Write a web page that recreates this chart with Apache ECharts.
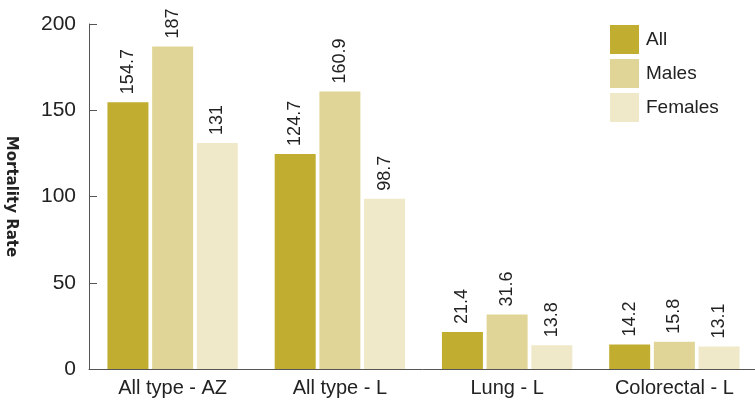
<!DOCTYPE html>
<html>
<head>
<meta charset="utf-8">
<script src="https://cdn.jsdelivr.net/npm/echarts@6/dist/echarts.min.js"></script>
<style>
  html, body { margin: 0; padding: 0; background: #fff; }
  #chart { width: 755px; height: 400px; }
</style>
</head>
<body>
<div id="chart"></div>
<script>
// data
const categories = ["All type - AZ", "All type - L", "Lung - L", "Colorectal - L"];
const allRates = [154.7, 124.7, 21.4, 14.2];
const maleRates = [187, 160.9, 31.6, 15.8];
const femaleRates = [131, 98.7, 13.8, 13.1];
const seriesNames = ["All", "Males", "Females"];
const colors = ["#c1ae30", "#e0d596", "#efe9c9"];

const font = "Liberation Sans";

const barLabel = {
  show: true,
  position: "top",
  rotate: 90,
  align: "left",
  verticalAlign: "middle",
  distance: 8,
  fontSize: 18,
  fontFamily: font,
  color: "#222",
};

function makeSeries(name, data, i) {
  return {
    name: name,
    type: "bar",
    data: data,
    barWidth: 41,
    barGap: "9%",
    itemStyle: { color: colors[i] },
    label: barLabel,
  };
}

const chart = echarts.init(document.getElementById("chart"));
chart.setOption({
  animation: false,
  grid: { left: 89, right: -3, top: 24, bottom: 31, containLabel: false, outerBoundsMode: "none" },
  legend: {
    orient: "vertical",
    left: 605,
    top: 20,
    itemWidth: 29,
    itemHeight: 29,
    itemGap: 5,
    icon: "rect",
    textStyle: { fontSize: 19, fontFamily: font, color: "#222", padding: [0, 0, 0, 2] },
    data: seriesNames,
  },
  xAxis: {
    type: "category",
    data: categories,
    axisLine: { lineStyle: { color: "#555", width: 1 } },
    axisTick: { inside: true, length: 6, lineStyle: { color: "#555" } },
    axisLabel: { fontSize: 20, fontFamily: font, color: "#222", margin: 9 },
  },
  yAxis: {
    type: "value",
    min: 0,
    max: 200,
    interval: 50,
    name: "Mortality Rate",
    nameLocation: "middle",
    nameGap: 71,
    nameRotate: -90,
    nameTextStyle: { fontSize: 15, fontWeight: "bold", fontFamily: "DejaVu Sans", color: "#222" },
    axisLine: { show: true, lineStyle: { color: "#555", width: 1 } },
    axisTick: { show: true, inside: true, length: 8, lineStyle: { color: "#555" } },
    axisLabel: { fontSize: 21, fontFamily: font, color: "#222", margin: 13 },
    splitLine: { show: false },
  },
  series: [
    makeSeries(seriesNames[0], allRates, 0),
    makeSeries(seriesNames[1], maleRates, 1),
    makeSeries(seriesNames[2], femaleRates, 2),
  ],
});
</script>
</body>
</html>
